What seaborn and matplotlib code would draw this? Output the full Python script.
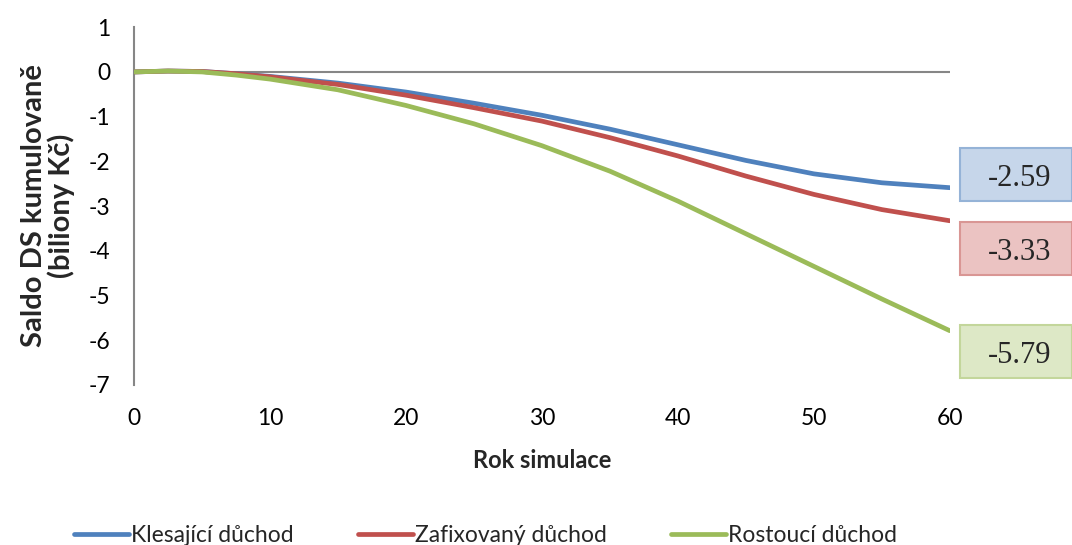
import numpy as np
import pandas as pd
import matplotlib
matplotlib.use("Agg")
import matplotlib.pyplot as plt
import seaborn as sns
from matplotlib.patches import Rectangle
from matplotlib.transforms import IdentityTransform

# data
years = [0, 2.5, 5, 7.5, 10, 15, 20, 25, 30, 35, 40, 45, 50, 55, 60]
klesajici = [0.0, 0.02, 0.01, -0.04, -0.10, -0.25, -0.45, -0.70, -0.97, -1.28, -1.63, -1.98, -2.28, -2.48, -2.59]
zafixovany = [0.0, 0.02, 0.01, -0.04, -0.11, -0.28, -0.52, -0.80, -1.10, -1.47, -1.88, -2.33, -2.74, -3.08, -3.33]
rostouci = [0.0, 0.02, 0.0, -0.07, -0.16, -0.40, -0.75, -1.16, -1.65, -2.22, -2.89, -3.62, -4.35, -5.08, -5.79]
series_names = ["Klesající důchod", "Zafixovaný důchod", "Rostoucí důchod"]
end_labels = ["-2.59", "-3.33", "-5.79"]

colors = ["#4F81BD", "#C0504D", "#9BBB59"]
box_face = ["#C6D6EA", "#EBC3C2", "#DDE8C6"]
box_edge = ["#95B3D7", "#D99694", "#C3D69B"]

df = pd.DataFrame({
    "rok": years * 3,
    "saldo": klesajici + zafixovany + rostouci,
    "serie": [series_names[0]] * len(years) + [series_names[1]] * len(years) + [series_names[2]] * len(years),
})

sns.set_style("white")
plt.rcParams["font.family"] = ["Lato", "DejaVu Sans"]
plt.rcParams["axes.unicode_minus"] = False

fig = plt.figure(figsize=(10.72, 5.45), dpi=100)
ax = fig.add_axes([0.125, 0.294, 0.761, 0.656])

ax.axhline(0, color="#868686", lw=1.5, zorder=1)
sns.lineplot(data=df, x="rok", y="saldo", hue="serie", palette=colors,
             linewidth=3.4, ax=ax, zorder=3, legend=True)

ax.set_xlim(0, 60)
ax.set_ylim(-7, 1)
ax.set_xticks(range(0, 61, 10))
ax.set_yticks(range(-7, 2))
for s in ["top", "right", "bottom"]:
    ax.spines[s].set_visible(False)
ax.spines["left"].set_color("#868686")
ax.spines["left"].set_linewidth(1.5)
ax.tick_params(axis="both", length=0, labelsize=16.5, colors="black")
ax.tick_params(axis="x", pad=17)
ax.tick_params(axis="y", pad=17)

ax.set_xlabel("Rok simulace", fontsize=17, fontweight="bold", labelpad=14)
ax.set_ylabel("Saldo DS kumulovaně\n(biliony Kč)", fontsize=21, fontweight="bold",
              labelpad=10, linespacing=1.0)

handles, labels = ax.get_legend_handles_labels()
ax.legend_.remove()
fig.legend(handles, labels, loc="lower center", bbox_to_anchor=(0.453, -0.04), ncol=3,
           frameon=False, fontsize=16.5, handlelength=2.4, handletextpad=0.1,
           columnspacing=2.8)

# value boxes at end of each line
fig.canvas.draw()
offsets = [13.5, -28, -21]
ends = [klesajici[-1], zafixovany[-1], rostouci[-1]]
for val, lab, off, fc, ec in zip(ends, end_labels, offsets, box_face, box_edge):
    x0, y0 = ax.transData.transform((years[-1], val))
    cy = y0 + off
    rect = Rectangle((x0 + 10, cy - 26.5), 112, 53, transform=IdentityTransform(),
                     facecolor=fc, edgecolor=ec, lw=1.5)
    fig.add_artist(rect)
    fig.text((x0 + 70) / fig.bbox.width, (cy - 4) / fig.bbox.height, lab,
             ha="center", va="center", fontsize=22, family="Liberation Serif")

fig.savefig("out.png", dpi=100)
